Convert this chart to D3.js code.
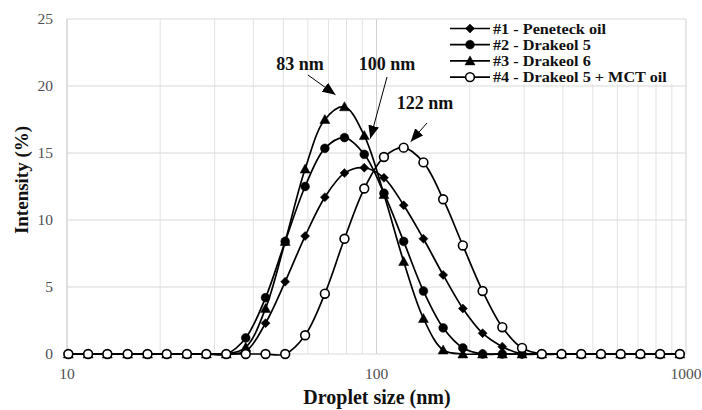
<!DOCTYPE html>
<html><head><meta charset="utf-8">
<script src="https://cdn.jsdelivr.net/npm/d3@7"></script>
<style>body{margin:0;background:#fff}svg{display:block}</style>
</head><body>
<svg id="c" width="702" height="410"></svg>
<script>
const sizes = [10.1, 11.7, 13.5, 15.7, 18.2, 21.0, 24.4, 28.2, 32.7, 37.8, 43.8, 50.7, 58.8, 68.1, 78.8, 91.3, 105.7, 122.4, 141.8, 164.2, 190.1, 220.2, 255.0, 295.3, 342.0, 396.1, 458.7, 531.2, 615.1, 712.4, 825.0, 955.4];
const peneteck = [0,0,0,0,0,0,0,0,0, 0.2, 2.3, 5.4, 8.8, 11.7, 13.5, 13.9, 13.15, 11.1, 8.6, 5.9, 3.4, 1.55, 0.55, 0,0,0,0,0,0,0,0,0];
const drakeol5 = [0,0,0,0,0,0,0,0,0, 1.2, 4.2, 8.4, 12.5, 15.35, 16.15, 14.9, 12.0, 8.4, 4.7, 1.95, 0.45, 0,0,0,0,0,0,0,0,0,0,0];
const drakeol6 = [0,0,0,0,0,0,0,0,0, 0.5, 3.4, 8.4, 13.8, 17.5, 18.45, 16.3, 11.9, 6.9, 2.65, 0.3, 0,0,0,0,0,0,0,0,0,0,0,0];
const mct = [0,0,0,0,0,0,0,0,0,0,0,0, 1.4, 4.5, 8.6, 12.35, 14.7, 15.4, 14.3, 11.55, 8.1, 4.7, 2.0, 0.45, 0,0,0,0,0,0,0,0];
const seriesNames = ["#1 - Peneteck oil", "#2 - Drakeol 5", "#3 - Drakeol 6", "#4 - Drakeol 5 + MCT oil"];
const seriesValues = [peneteck, drakeol5, drakeol6, mct];
const markerTypes = ["diamond", "circle", "triangle", "open"];
const yTicks = [0, 5, 10, 15, 20, 25];
const xTicks = [10, 100, 1000];
const annLabels = ["83 nm", "100 nm", "122 nm"];
const annSizes = [78.8, 91.3, 122.4];
const annValues = [18.45, 16.3, 15.4];

const FONT = '"Liberation Serif", "Times New Roman", serif';
const svg = d3.select("#c");
const x = d3.scaleLog().domain([10, 1000]).range([67, 686]);
const y = d3.scaleLinear().domain([0, 25]).range([354, 19]);

// gridlines
const minor = [];
for (let d = 10; d < 1000; d *= 10) for (let k = 2; k <= 9; k++) minor.push(d * k);
svg.append("g").selectAll("line").data(minor).join("line")
  .attr("x1", d => x(d)).attr("x2", d => x(d)).attr("y1", y(0)).attr("y2", y(25))
  .attr("stroke", "#e3e3e3").attr("stroke-width", 1);
svg.append("g").selectAll("line").data(xTicks.slice(1)).join("line")
  .attr("x1", d => x(d)).attr("x2", d => x(d)).attr("y1", y(0)).attr("y2", y(25))
  .attr("stroke", "#d0d0d0").attr("stroke-width", 1);
svg.append("g").selectAll("line").data(yTicks).join("line")
  .attr("x1", x(10)).attr("x2", x(1000)).attr("y1", d => y(d)).attr("y2", d => y(d))
  .attr("stroke", "#d9d9d9").attr("stroke-width", 1);
svg.append("line").attr("x1", x(10)).attr("x2", x(10)).attr("y1", y(0)).attr("y2", y(25))
  .attr("stroke", "#bfbfbf").attr("stroke-width", 1);

// axes labels
svg.append("g").selectAll("text").data(yTicks).join("text")
  .attr("x", 53).attr("y", d => y(d)).attr("dy", "0.35em").attr("text-anchor", "end")
  .style("font-family", FONT).attr("font-size", 15.5).attr("fill", "#505050").text(d => d);
svg.append("g").selectAll("text").data(xTicks).join("text")
  .attr("x", d => x(d)).attr("y", 374).attr("dy", "0.35em").attr("text-anchor", "middle")
  .style("font-family", FONT).attr("font-size", 15.5).attr("fill", "#505050").text(d => d);
svg.append("text").attr("x", 377).attr("y", 404).attr("text-anchor", "middle")
  .style("font-family", FONT).attr("font-size", 20).attr("font-weight", "bold").attr("fill", "#111")
  .text("Droplet size (nm)");
svg.append("text").attr("transform", "translate(28,180) rotate(-90)").attr("text-anchor", "middle")
  .style("font-family", FONT).attr("font-size", 19).attr("font-weight", "bold").attr("fill", "#111")
  .text("Intensity (%)");

function markerPath(t) {
  if (t === "diamond") return "M0,-4.5L4.5,0L0,4.5L-4.5,0Z";
  if (t === "triangle") return "M0,-5L5,4L-5,4Z";
  return d3.symbol().type(d3.symbolCircle).size(Math.PI * 4.4 * 4.4)();
}

const line = d3.line().x(d => x(d[0])).y(d => y(d[1])).curve(d3.curveCatmullRom.alpha(0.5));
seriesValues.forEach((vals, i) => {
  const pts = sizes.map((s, j) => [s, vals[j]]);
  const g = svg.append("g");
  g.append("path").attr("d", line(pts)).attr("fill", "none").attr("stroke", "#000").attr("stroke-width", 1.7);
  const t = markerTypes[i];
  g.selectAll("path.m").data(pts).join("path").attr("class", "m")
    .attr("transform", d => `translate(${x(d[0])},${y(d[1])})`)
    .attr("d", markerPath(t))
    .attr("fill", t === "open" ? "#fff" : "#000")
    .attr("stroke", "#000").attr("stroke-width", t === "open" ? 1.6 : 0.5);
});

// legend
const lg = svg.append("g");
lg.append("rect").attr("x", 446).attr("y", 20).attr("width", 239).attr("height", 64).attr("fill", "#fff");
seriesNames.forEach((n, i) => {
  const yy = 28.5 + i * 16.2;
  lg.append("line").attr("x1", 450).attr("x2", 490).attr("y1", yy).attr("y2", yy).attr("stroke", "#000").attr("stroke-width", 1.7);
  const t = markerTypes[i];
  lg.append("path").attr("transform", `translate(470,${yy})`).attr("d", markerPath(t))
    .attr("fill", t === "open" ? "#fff" : "#000").attr("stroke", "#000").attr("stroke-width", t === "open" ? 1.6 : 0.5);
  lg.append("text").attr("transform", `translate(493,${yy}) scale(1.12,1)`).attr("dy", "0.35em")
    .style("font-family", FONT).attr("font-size", 14.5).attr("font-weight", "bold").attr("fill", "#111").text(n);
});

// annotations
const annText = [[300, 64], [387, 64], [425, 103]];
const annStart = [[308, 75], [387, 77], [427, 123]];
const annOffset = [[-9, -12], [6, 3], [7, -6]];
svg.append("defs").append("marker").attr("id", "ah").attr("viewBox", "0 0 12 10")
  .attr("refX", 12).attr("refY", 5).attr("markerWidth", 13).attr("markerHeight", 11)
  .attr("markerUnits", "userSpaceOnUse").attr("orient", "auto")
  .append("path").attr("d", "M0,0L12,5L0,10Z").attr("fill", "#000");
annLabels.forEach((lbl, i) => {
  svg.append("text").attr("x", annText[i][0]).attr("y", annText[i][1]).attr("dy", "0.35em").attr("text-anchor", "middle")
    .style("font-family", FONT).attr("font-size", 18).attr("font-weight", "bold").attr("fill", "#111").text(lbl);
  const tx = x(annSizes[i]) + annOffset[i][0], ty = y(annValues[i]) + annOffset[i][1];
  svg.append("line").attr("x1", annStart[i][0]).attr("y1", annStart[i][1]).attr("x2", tx).attr("y2", ty)
    .attr("stroke", "#000").attr("stroke-width", 1).attr("marker-end", "url(#ah)");
});
</script>
</body></html>
